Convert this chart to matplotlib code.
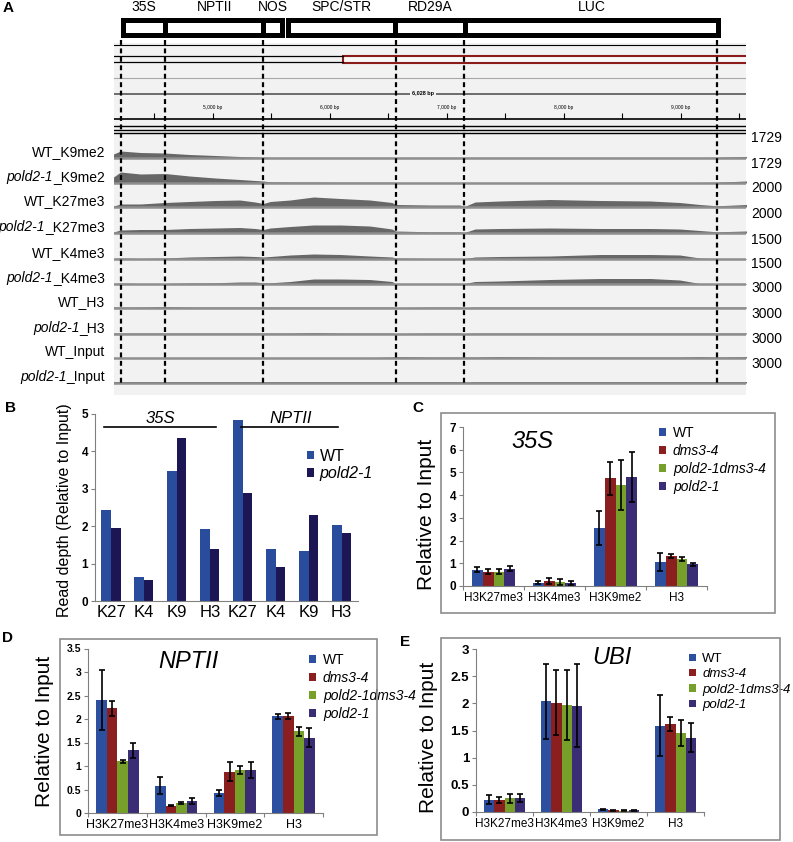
import matplotlib.pyplot as plt
from matplotlib.patches import Rectangle
import numpy as np

plt.rcParams['font.family'] = ['Liberation Sans', 'DejaVu Sans']

W, H = 793, 842

# ---------------- panel A data ----------------
view_start, view_end = 4154, 9556
genes = ['35S', 'NPTII', 'NOS', 'SPC/STR', 'RD29A', 'LUC']
gene_start = [4235, 4590, 5430, 5640, 6560, 7150]
gene_end = [4590, 5430, 5590, 6560, 7150, 9320]
boundaries = [4214, 4590, 5427, 6564, 7145, 9308]
ruler_major = [5000, 6000, 7000, 8000, 9000]

# (italic part, upright part) of each track name
track_names = [('', 'WT_K9me2'), ('pold2-1', '_K9me2'),
               ('', 'WT_K27me3'), ('pold2-1', '_K27me3'),
               ('', 'WT_K4me3'), ('pold2-1', '_K4me3'),
               ('', 'WT_H3'), ('pold2-1', '_H3'),
               ('', 'WT_Input'), ('pold2-1', '_Input')]
track_scale = ['1729', '1729', '2000', '2000', '1500', '1500', '3000', '3000', '3000', '3000']

# coverage breakpoints (bp) and heights for every track
cov_pos = [4150, 4210, 4380, 4590, 4800, 5020, 5230, 5360, 5430, 5490, 5660, 5860, 6090, 6340,
           6530, 6560, 6860, 7110, 7150, 7240, 7450, 7880, 8310, 8740, 8990, 9160, 9310, 9560]
cov = [
    [4, 7, 5.5, 5, 3.5, 2.5, 1.5, 1, 0.8, 0.6, 0.6, 0.6, 0.6, 0.6, 0.6, 0.6, 0.6, 0.6, 0.6, 0.6, 0.6, 0.6, 0.6, 0.6, 0.6, 0.6, 0.8, 1.5],
    [6, 11, 9, 9.5, 7, 5, 3.5, 2.5, 2, 1.2, 1, 1, 0.8, 0.8, 0.8, 0.6, 0.6, 0.6, 0.6, 0.6, 0.6, 0.6, 0.6, 0.6, 0.6, 0.6, 0.8, 2],
    [1, 3, 3, 4.5, 5.5, 6.5, 7, 5, 3.5, 5.5, 7, 10, 8.5, 7, 4.5, 2.5, 2, 2, 0.5, 5, 6, 7.5, 6.5, 6, 4.5, 2.5, 1.2, 2.5],
    [1, 3, 3.5, 3.5, 4.5, 5, 5.5, 4.5, 3.5, 5, 6.5, 8, 8, 7, 4, 2, 1.2, 1.2, 0.5, 4, 4.5, 5, 4.5, 4.5, 4, 2.5, 1.2, 2],
    [0.5, 1, 0.5, 1, 2, 2.5, 3, 2.5, 2, 2.5, 4, 5, 4.5, 3, 2, 1, 0.5, 0.5, 0.5, 2, 2.5, 3, 4.5, 4.5, 4, 1, 0.5, 0.5],
    [0.5, 1, 0.5, 0.5, 1, 1.2, 2, 2, 1.2, 1.2, 2.5, 5, 5, 4.5, 2.5, 0.5, 0.5, 0.5, 0.5, 2.5, 3, 4.5, 5.5, 5.5, 4, 0.5, 0.5, 0.5],
    [1, 1, 1, 1.5, 1, 1, 1, 1, 1, 1, 1, 1, 1, 1, 1, 0.5, 1, 1, 0.5, 1, 1, 1, 1, 1, 1, 1, 1, 1],
    [1, 1, 1, 1, 1, 1, 1, 1, 1, 1, 1, 1.5, 1, 1, 1, 0.5, 1, 1, 0.5, 1, 1, 1, 1, 1, 1, 1, 1, 1],
    [0.5, 0.5, 0.5, 0.5, 0.5, 0.5, 0.5, 0.5, 0.5, 0.5, 0.5, 0.5, 0.5, 0.5, 1, 1.5, 1, 1, 1, 1, 1.5, 1, 1, 1, 1, 1.5, 1, 1.5],
    [1.5, 1.5, 1.5, 1.5, 1.5, 1.5, 1.5, 1.5, 1.5, 1.5, 1.5, 1.5, 1.5, 1.5, 1.5, 1.5, 1.5, 1.5, 1, 1.5, 1.5, 1.5, 1.5, 1.5, 1.5, 1.5, 1.5, 1.5],
]

# ---------------- panel B data ----------------
b_cats = ['K27', 'K4', 'K9', 'H3', 'K27', 'K4', 'K9', 'H3']
b_wt = [2.42, 0.65, 3.48, 1.92, 4.85, 1.38, 1.35, 2.03]
b_pold = [1.95, 0.55, 4.35, 1.4, 2.9, 0.9, 2.3, 1.83]

# ---------------- panels C-E data ----------------
marks = ['H3K27me3', 'H3K4me3', 'H3K9me2', 'H3']
genotypes = ['WT', 'dms3-4', 'pold2-1dms3-4', 'pold2-1']
geno_colors = ['#2c4f9f', '#8b1e1e', '#77a02a', '#3a2d76']

c_mean = [[0.72, 0.15, 2.57, 1.07], [0.63, 0.22, 4.75, 1.32], [0.63, 0.18, 4.45, 1.2], [0.77, 0.14, 4.8, 0.95]]
c_err = [[0.1, 0.05, 0.75, 0.4], [0.1, 0.15, 0.73, 0.08], [0.1, 0.12, 1.1, 0.08], [0.1, 0.08, 1.1, 0.06]]

d_mean = [[2.4, 0.58, 0.43, 2.06], [2.23, 0.15, 0.88, 2.06], [1.1, 0.22, 0.92, 1.74], [1.33, 0.26, 0.92, 1.6]]
d_err = [[0.64, 0.18, 0.06, 0.05], [0.16, 0.01, 0.2, 0.06], [0.03, 0.02, 0.09, 0.1], [0.17, 0.06, 0.17, 0.2]]

e_mean = [[0.23, 2.04, 0.05, 1.59], [0.22, 2.01, 0.03, 1.62], [0.25, 1.97, 0.02, 1.46], [0.26, 1.96, 0.03, 1.37]]
e_err = [[0.09, 0.69, 0.01, 0.56], [0.06, 0.6, 0.01, 0.13], [0.09, 0.64, 0.01, 0.24], [0.07, 0.76, 0.01, 0.27]]


fig = plt.figure(figsize=(W / 100, H / 100), dpi=100)
renderer = fig.canvas.get_renderer()


def rect(x0, y0, x1, y1):
    return [x0 / W, 1 - y1 / H, (x1 - x0) / W, (y1 - y0) / H]


def fx(x):
    return x / W


def fy(y):
    return 1 - y / H


# ================= A: browser view =================
ax = fig.add_axes(rect(114, 0, 746, 395))
ax.set_xlim(view_start, view_end)
ax.set_ylim(395, 0)
ax.axis('off')
ax.add_patch(Rectangle((view_start, 43), view_end - view_start, 352, fc='#f2f2f2', ec='none', zorder=0))

for g, s, e in zip(genes, gene_start, gene_end):
    ax.add_patch(Rectangle((s, 19.5), e - s, 15, fc='white', ec='black', lw=3.6, zorder=3, clip_on=False))
    ax.text((s + e) / 2, 7, g, ha='center', va='center', fontsize=10, clip_on=False)

full = [view_start, view_end]
ax.plot(full, [45, 45], color='black', lw=0.8)
for y in (56, 62):
    ax.plot([view_start, 6110], [y, y], color='black', lw=0.9)
ax.add_patch(Rectangle((6110, 55.5), view_end - 6110 + 100, 7, fc='#f8f8f8', ec='#8b1a1a', lw=1.5))
ax.plot(full, [78, 78], color='#a8a8a8', lw=0.8)
ax.plot(full, [94, 94], color='#555555', lw=1.2)
ax.text(6795, 94, '6,028 bp', fontsize=4, ha='center', va='center', fontweight='bold',
        bbox=dict(fc='#f2f2f2', ec='none', pad=1.5))
for t in ruler_major:
    ax.text(t, 108, f'{t:,} bp', fontsize=3.5, ha='center', va='center')
ax.vlines(np.arange(4500, 9600, 500), 113, 119, color='black', lw=0.8)
ax.plot(full, [119, 119], color='black', lw=1.2)
for y in (126, 129.5, 133):
    ax.plot(full, [y, y], color='black', lw=1.0)

baselines = [158, 183, 207, 233, 259, 284, 308, 334, 358, 383]
for (ital, rest), scale, h, base in zip(track_names, track_scale, cov, baselines):
    ax.fill_between(cov_pos, base, base - np.array(h), color='#676767', lw=0, zorder=2)
    ax.plot(full, [base, base], color='#8e8e8e', lw=1.8, zorder=2)
    t = fig.text(fx(105), fy(base - 2), rest, ha='right', va='baseline', fontsize=10)
    if ital:
        bb = t.get_window_extent(renderer)
        fig.text(bb.x0 / fig.bbox.width, fy(base - 2), ital, ha='right', va='baseline',
                 fontsize=10, style='italic')
    fig.text(fx(751), fy(base - 19.5), scale, ha='left', va='center', fontsize=10)

ax.vlines(boundaries, 40, 385, color='black', lw=1.6, linestyles=(0, (2.2, 1.6)), zorder=5, clip_on=False)

# ================= B: read depth =================
axb = fig.add_axes(rect(95, 414, 358, 601))
xb = np.arange(len(b_cats))
axb.bar(xb - 0.145, b_wt, 0.29, color='#2a4c9c', label='WT')
axb.bar(xb + 0.145, b_pold, 0.29, color='#1c1654', label='pold2-1')
axb.set_xlim(-0.486, 7.5)
axb.set_ylim(0, 5)
axb.set_yticks(range(6))
axb.set_xticks(xb)
axb.set_xticklabels(b_cats, fontsize=12)
axb.tick_params(axis='x', length=0, pad=3)
axb.tick_params(axis='y', length=3, labelsize=8.5, pad=2, color='#808080')
for lab in axb.get_yticklabels():
    lab.set_fontweight('bold')
for sp in ('top', 'right'):
    axb.spines[sp].set_visible(False)
for sp in ('left', 'bottom'):
    axb.spines[sp].set_color('#808080')
fig.text(fx(65), fy(510), 'Read depth (Relative to Input)', rotation=90, ha='center', va='center', fontsize=11.5)

axb.plot([-0.21, 3.19], [4.65, 4.65], color='black', lw=1.2, clip_on=False)
axb.plot([3.95, 6.9], [4.65, 4.65], color='black', lw=1.2, clip_on=False)
axb.text(1.5, 4.89, '35S', style='italic', fontsize=12, ha='center', va='center', clip_on=False)
axb.text(5.45, 4.89, 'NPTII', style='italic', fontsize=12, ha='center', va='center', clip_on=False)

leg = axb.legend(loc='center left', bbox_to_anchor=(fx(307), fy(465)), bbox_transform=fig.transFigure,
                 frameon=False, fontsize=11.5, handlelength=0.45, handleheight=0.45, handletextpad=0.35,
                 labelspacing=0.15, borderpad=0, borderaxespad=0)
leg.get_texts()[1].set_style('italic')


# ================= C, D, E: ChIP-qPCR =================
def chip_panel(frame, plot_box, ymax, ystep, means, errs, title, title_xy, leg_xy,
               tick_fs, xlab_fs, leg_fs, leg_sp, ylab_xy):
    fig.add_artist(Rectangle((fx(frame[0]), fy(frame[3])), (frame[2] - frame[0]) / W,
                             (frame[3] - frame[1]) / H, transform=fig.transFigure,
                             fill=False, ec='#8c8c8c', lw=1.2))
    a = fig.add_axes(rect(*plot_box))
    x = np.arange(len(marks))
    offsets = [-0.27, -0.09, 0.09, 0.27]
    for k in range(len(genotypes)):
        a.bar(x + offsets[k], means[k], 0.18, yerr=errs[k], color=geno_colors[k], label=genotypes[k],
              error_kw=dict(ecolor='black', lw=1.2, capsize=2, capthick=1.2))
    a.set_xlim(-0.5, len(marks) - 0.5)
    a.set_ylim(0, ymax)
    yt = np.arange(0, ymax + ystep / 2, ystep)
    a.set_yticks(yt)
    a.set_yticklabels([f'{v:g}' for v in yt], fontsize=tick_fs, fontweight='bold')
    a.set_xticks(np.arange(-0.5, len(marks), 1.0))
    a.set_xticklabels([])
    a.set_xticks(x, minor=True)
    a.set_xticklabels(marks, minor=True, fontsize=xlab_fs)
    a.tick_params(axis='x', which='minor', length=0, pad=4)
    a.tick_params(axis='x', which='major', length=3, color='#808080')
    a.tick_params(axis='y', length=3, pad=2, color='#808080')
    for sp in ('top', 'right'):
        a.spines[sp].set_visible(False)
    for sp in ('left', 'bottom'):
        a.spines[sp].set_color('#808080')
    fig.text(fx(ylab_xy[0]), fy(ylab_xy[1]), 'Relative to Input', rotation=90, ha='center', va='center', fontsize=15)
    fig.text(fx(title_xy[0]), fy(title_xy[1]), title, style='italic', fontsize=17, ha='center', va='center')
    lg = a.legend(loc='center left', bbox_to_anchor=(fx(leg_xy[0]), fy(leg_xy[1])), bbox_transform=fig.transFigure,
                  frameon=False, fontsize=leg_fs, handlelength=0.5, handleheight=0.5, handletextpad=0.5,
                  labelspacing=leg_sp, borderpad=0, borderaxespad=0)
    for t in lg.get_texts()[1:]:
        t.set_style('italic')
    return a


chip_panel((441, 413, 775, 613), (463, 427, 707, 586), 7, 1, c_mean, c_err, '35S', (532, 442), (659, 460),
           8.5, 8.5, 10, 0.3, (427, 514))
chip_panel((60, 639, 377, 835), (88, 648.5, 323, 813), 3.5, 0.5, d_mean, d_err, 'NPTII', (188, 661), (309, 687),
           7.5, 9, 10, 0.3, (45, 731))
chip_panel((441, 638, 780, 840), (476, 649, 704, 812), 3, 0.5, e_mean, e_err, 'UBI', (612, 657), (689, 682),
           9.5, 8.5, 9.5, 0.25, (428, 737))

# panel letters
for letter, (px, py) in zip('ABCDE', [(8, 8), (10, 408), (418, 408), (7, 638), (405, 642)]):
    fig.text(fx(px), fy(py), letter, fontsize=11, fontweight='bold', ha='center', va='center')

fig.savefig('out.png', dpi=100)
